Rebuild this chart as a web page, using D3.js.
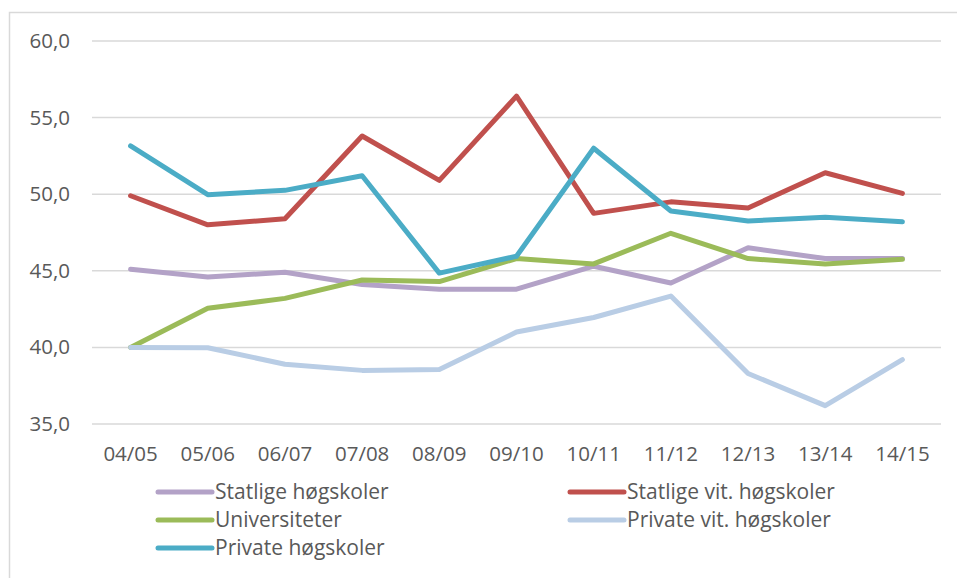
<!DOCTYPE html>
<html>
<head>
<meta charset="utf-8">
<script src="https://cdn.jsdelivr.net/npm/d3@7"></script>
<style>
  body { margin: 0; background: #fff; }
  text { font-family: "Open Sans", sans-serif; fill: #595959; }
</style>
</head>
<body>
<div id="chart"></div>
<script>
// school years on the x axis
var years = ["04/05", "05/06", "06/07", "07/08", "08/09", "09/10", "10/11", "11/12", "12/13", "13/14", "14/15"];

// values
var statligeHogskoler = [45.1, 44.6, 44.9, 44.1, 43.8, 43.8, 45.3, 44.2, 46.5, 45.8, 45.8];
var statligeVit      = [49.9, 48.0, 48.4, 53.8, 50.9, 56.4, 48.75, 49.5, 49.1, 51.4, 50.05];
var universiteter    = [40.0, 42.55, 43.2, 44.4, 44.3, 45.8, 45.45, 47.45, 45.8, 45.45, 45.75];
var privateVit       = [40.0, 39.98, 38.9, 38.5, 38.55, 41.0, 41.95, 43.35, 38.3, 36.2, 39.2];
var privateHogskoler = [53.15, 49.97, 50.25, 51.2, 44.85, 45.95, 53.0, 48.9, 48.25, 48.5, 48.2];

var yTicks = [35, 40, 45, 50, 55, 60];

var series = [
  {name: "Statlige høgskoler", values: statligeHogskoler, colour: "#b3a2c7"},
  {name: "Statlige vit. høgskoler", values: statligeVit, colour: "#c0504d"},
  {name: "Universiteter", values: universiteter, colour: "#9bbb59"},
  {name: "Private vit. høgskoler", values: privateVit, colour: "#b9cde5"},
  {name: "Private høgskoler", values: privateHogskoler, colour: "#4bacc6"}
];

var w = 957,
    h = 578;

var svg = d3.select("#chart").append("svg")
  .attr("width", w)
  .attr("height", h);

// chart frame
svg.append("rect")
  .attr("x", 9.5).attr("y", 12.5)
  .attr("width", 1000).attr("height", 1000)
  .attr("fill", "none")
  .attr("stroke", "#d9d9d9")
  .attr("stroke-width", 1.5);

var xScale = d3.scaleBand().domain(years).range([92, 941]),
    yScale = d3.scaleLinear().domain([35, 60]).range([424, 41]);

// gridlines
svg.selectAll("line.grid")
  .data(yTicks)
  .enter().append("line")
  .attr("class", "grid")
  .attr("x1", 92).attr("x2", 941)
  .attr("y1", function(d){ return yScale(d); })
  .attr("y2", function(d){ return yScale(d); })
  .attr("stroke", "#d9d9d9")
  .attr("stroke-width", 1.5);

var yAxis = d3.axisLeft(yScale)
  .tickValues(yTicks)
  .tickSize(0)
  .tickPadding(22)
  .tickFormat(function(d){ return d3.format(".1f")(d).replace(".", ","); });

var gy = svg.append("g")
  .attr("transform", "translate(92,0)")
  .call(yAxis);
gy.select(".domain").remove();
gy.selectAll("text").style("font-size", "20.5px").attr("fill", "#595959");

var xAxis = d3.axisBottom(xScale).tickSize(0).tickPadding(22);
var gx = svg.append("g")
  .attr("transform", "translate(0,424)")
  .call(xAxis);
gx.select(".domain").remove();
gx.selectAll("text").style("font-size", "20.5px").attr("fill", "#595959");

var line = d3.line()
  .x(function(d, i){ return xScale(years[i]) + xScale.bandwidth() / 2; })
  .y(function(d){ return yScale(d); });

series.forEach(function(s){
  svg.append("path")
    .datum(s.values)
    .attr("fill", "none")
    .attr("stroke", s.colour)
    .attr("stroke-width", 5)
    .attr("stroke-linejoin", "round")
    .attr("stroke-linecap", "round")
    .attr("d", line);
});

// legend, two columns
var legendPos = [[158, 492], [570, 492], [158, 520], [570, 520], [158, 548]];
var legend = svg.selectAll("g.legend")
  .data(series)
  .enter().append("g")
  .attr("class", "legend")
  .attr("transform", function(d, i){ return "translate(" + legendPos[i][0] + "," + legendPos[i][1] + ")"; });

legend.append("line")
  .attr("x1", 0).attr("x2", 54)
  .attr("stroke", function(d){ return d.colour; })
  .attr("stroke-width", 5)
  .attr("stroke-linecap", "round");

legend.append("text")
  .attr("x", 57)
  .attr("dy", "0.35em")
  .style("font-size", "21px")
  .text(function(d){ return d.name; });
</script>
</body>
</html>
